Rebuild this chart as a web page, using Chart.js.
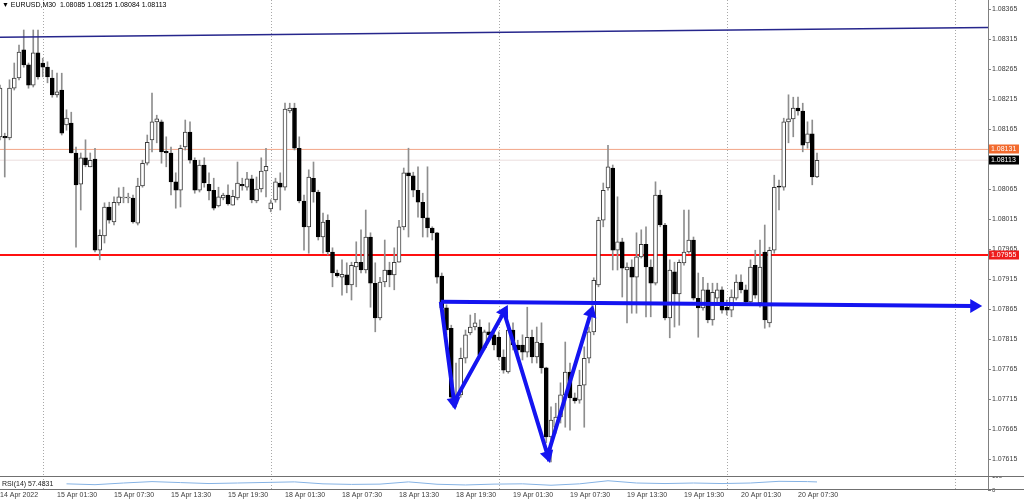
<!DOCTYPE html>
<html>
<head>
<meta charset="utf-8">
<title>EURUSD,M30</title>
<script src="https://cdn.jsdelivr.net/npm/chart.js@4.4.1/dist/chart.umd.min.js"></script>
<style>
  html, body { margin: 0; padding: 0; background: #fff; }
  #wrap { position: relative; width: 1024px; height: 500px; overflow: hidden; }
  #main { position: absolute; left: 0; top: 0; }
  #sub { position: absolute; left: 0; top: 476px; }
  #hdr { position: absolute; left: 2px; top: 0; font: 7px "Liberation Sans", Arial, sans-serif; line-height: 10px; color: #000; white-space: pre; }
</style>
</head>
<body>
<div id="wrap">
  <canvas id="main" width="1024" height="476"></canvas>
  <canvas id="sub" width="1024" height="24"></canvas>
  <div id="hdr"></div>
</div>
<script>
// EURUSD M30, bar 0 = 14 Apr 19:30 ... bar 172 = 20 Apr 09:30
const opens = [
  1.08152, 1.08153, 1.08150, 1.08233, 1.08250, 1.08297, 1.08272, 1.08238, 1.08292, 1.08275, 1.08268, 1.08250,
  1.08222, 1.08230, 1.08172, 1.08175, 1.08125, 1.08073, 1.08117, 1.08102, 1.08115, 1.07963, 1.07987, 1.08035,
  1.08010, 1.08042, 1.08050, 1.08050, 1.08050, 1.08008, 1.08070, 1.08108, 1.08147, 1.08177, 1.08177, 1.08128,
  1.08125, 1.08077, 1.08063, 1.08135, 1.08160, 1.08113, 1.08063, 1.08105, 1.08073, 1.08063, 1.08037, 1.08050,
  1.08055, 1.08038, 1.08050, 1.08073, 1.08068, 1.08082, 1.08045, 1.08065, 1.08095, 1.08032, 1.08047, 1.08075,
  1.08068, 1.08195, 1.08200, 1.08133, 1.08045, 1.08002, 1.08083, 1.08060, 1.07985, 1.08013, 1.07960, 1.07925,
  1.07918, 1.07922, 1.07905, 1.07935, 1.07943, 1.07930, 1.07985, 1.07908, 1.07850, 1.07910, 1.07930, 1.07922,
  1.07943, 1.08002, 1.08092, 1.08087, 1.08063, 1.08043, 1.08017, 1.08000, 1.07992, 1.07920, 1.07867, 1.07833,
  1.07708, 1.07722, 1.07783, 1.07825, 1.07835, 1.07835, 1.07800, 1.07827, 1.07822, 1.07818, 1.07785, 1.07760,
  1.07830, 1.07805, 1.07805, 1.07793, 1.07818, 1.07785, 1.07808, 1.07767, 1.07652, 1.07668, 1.07685, 1.07722,
  1.07760, 1.07717, 1.07713, 1.07738, 1.07783, 1.07827, 1.07905, 1.08013, 1.08067, 1.08100, 1.07963, 1.07977,
  1.07930, 1.07935, 1.07918, 1.07952, 1.07973, 1.07935, 1.07908, 1.08055, 1.08005, 1.07850, 1.07927, 1.07890,
  1.07942, 1.07960, 1.07980, 1.07883, 1.07867, 1.07897, 1.07847, 1.07883, 1.07897, 1.07868, 1.07863, 1.07883,
  1.07910, 1.07897, 1.07877, 1.07938, 1.07875, 1.07960, 1.07842, 1.07963, 1.08070, 1.08068, 1.08177, 1.08182,
  1.08200, 1.08195, 1.08142, 1.08157, 1.08085
];
const highs = [
  1.08238, 1.08158, 1.08247, 1.08275, 1.08305, 1.08330, 1.08275, 1.08330, 1.08330, 1.08283, 1.08277, 1.08263,
  1.08258, 1.08258, 1.08197, 1.08193, 1.08135, 1.08125, 1.08147, 1.08125, 1.08133, 1.07997, 1.08042, 1.08043,
  1.08052, 1.08067, 1.08068, 1.08058, 1.08055, 1.08083, 1.08113, 1.08155, 1.08225, 1.08188, 1.08180, 1.08152,
  1.08135, 1.08092, 1.08138, 1.08180, 1.08177, 1.08117, 1.08113, 1.08117, 1.08092, 1.08083, 1.08068, 1.08058,
  1.08072, 1.08063, 1.08110, 1.08083, 1.08093, 1.08088, 1.08085, 1.08117, 1.08133, 1.08047, 1.08083, 1.08092,
  1.08208, 1.08208, 1.08208, 1.08152, 1.08055, 1.08097, 1.08110, 1.08063, 1.08025, 1.08022, 1.07967, 1.07930,
  1.07947, 1.07942, 1.07943, 1.07977, 1.07997, 1.08030, 1.07992, 1.07942, 1.07918, 1.07980, 1.07943, 1.07967,
  1.08013, 1.08100, 1.08133, 1.08093, 1.08102, 1.08058, 1.08102, 1.08002, 1.07993, 1.07925, 1.07872, 1.07838,
  1.07775, 1.07800, 1.07830, 1.07855, 1.07858, 1.07847, 1.07830, 1.07842, 1.07830, 1.07827, 1.07797, 1.07842,
  1.07842, 1.07813, 1.07822, 1.07868, 1.07830, 1.07835, 1.07842, 1.07768, 1.07702, 1.07708, 1.07742, 1.07810,
  1.07775, 1.07725, 1.07763, 1.07802, 1.07835, 1.07917, 1.08018, 1.08075, 1.08138, 1.08105, 1.08052, 1.07983,
  1.07942, 1.07947, 1.07992, 1.07997, 1.08002, 1.07947, 1.08077, 1.08063, 1.08008, 1.07947, 1.07943, 1.07947,
  1.08030, 1.08030, 1.07985, 1.07925, 1.07918, 1.07908, 1.07908, 1.07908, 1.07902, 1.07880, 1.07897, 1.07922,
  1.07922, 1.07905, 1.07947, 1.07963, 1.07980, 1.08005, 1.07968, 1.08088, 1.08080, 1.08183, 1.08222, 1.08218,
  1.08218, 1.08208, 1.08177, 1.08180, 1.08125
];
const lows = [
  1.08147, 1.08085, 1.08147, 1.08230, 1.08247, 1.08268, 1.08233, 1.08235, 1.08248, 1.08252, 1.08242, 1.08218,
  1.08218, 1.08155, 1.08163, 1.08125, 1.07968, 1.08030, 1.08102, 1.08102, 1.07960, 1.07947, 1.07975, 1.08008,
  1.08005, 1.08038, 1.08042, 1.08042, 1.08008, 1.08005, 1.08068, 1.08105, 1.08127, 1.08142, 1.08108, 1.08102,
  1.08055, 1.08033, 1.08035, 1.08130, 1.08108, 1.08058, 1.08060, 1.08068, 1.08047, 1.08030, 1.08035, 1.08047,
  1.08038, 1.08038, 1.08047, 1.08063, 1.08063, 1.08042, 1.08042, 1.08060, 1.08052, 1.08027, 1.08043, 1.08030,
  1.08063, 1.08192, 1.08130, 1.08042, 1.07963, 1.07958, 1.08043, 1.07980, 1.07958, 1.07955, 1.07902, 1.07918,
  1.07888, 1.07892, 1.07880, 1.07902, 1.07925, 1.07925, 1.07868, 1.07827, 1.07847, 1.07902, 1.07902, 1.07897,
  1.07943, 1.07997, 1.07985, 1.08052, 1.08018, 1.07985, 1.07985, 1.07980, 1.07908, 1.07863, 1.07822, 1.07708,
  1.07702, 1.07718, 1.07775, 1.07822, 1.07830, 1.07785, 1.07797, 1.07818, 1.07797, 1.07780, 1.07758, 1.07758,
  1.07797, 1.07785, 1.07780, 1.07785, 1.07775, 1.07775, 1.07758, 1.07642, 1.07610, 1.07658, 1.07675, 1.07668,
  1.07663, 1.07708, 1.07708, 1.07668, 1.07775, 1.07822, 1.07902, 1.08002, 1.08063, 1.07930, 1.07930, 1.07885,
  1.07842, 1.07858, 1.07858, 1.07950, 1.07852, 1.07852, 1.07905, 1.08002, 1.07847, 1.07817, 1.07835, 1.07838,
  1.07938, 1.07958, 1.07880, 1.07818, 1.07863, 1.07842, 1.07838, 1.07875, 1.07858, 1.07855, 1.07852, 1.07880,
  1.07892, 1.07875, 1.07875, 1.07883, 1.07868, 1.07833, 1.07835, 1.07958, 1.08030, 1.08063, 1.08142, 1.08152,
  1.08188, 1.08127, 1.08133, 1.08072, 1.08084
];
const closes = [
  1.08233, 1.08150, 1.08233, 1.08250, 1.08293, 1.08272, 1.08238, 1.08292, 1.08252, 1.08268, 1.08252, 1.08222,
  1.08227, 1.08158, 1.08183, 1.08125, 1.08072, 1.08117, 1.08105, 1.08113, 1.07963, 1.07988, 1.08035, 1.08013,
  1.08043, 1.08052, 1.08051, 1.08050, 1.08010, 1.08070, 1.08108, 1.08143, 1.08177, 1.08182, 1.08127, 1.08125,
  1.08077, 1.08063, 1.08133, 1.08160, 1.08113, 1.08063, 1.08105, 1.08075, 1.08062, 1.08033, 1.08052, 1.08055,
  1.08040, 1.08053, 1.08075, 1.08070, 1.08082, 1.08047, 1.08065, 1.08095, 1.08103, 1.08042, 1.08077, 1.08068,
  1.08198, 1.08200, 1.08133, 1.08045, 1.08002, 1.08085, 1.08060, 1.07985, 1.08010, 1.07960, 1.07925, 1.07920,
  1.07923, 1.07905, 1.07938, 1.07943, 1.07930, 1.07985, 1.07908, 1.07850, 1.07910, 1.07930, 1.07922, 1.07943,
  1.08002, 1.08092, 1.08087, 1.08063, 1.08043, 1.08017, 1.08000, 1.07992, 1.07918, 1.07867, 1.07830, 1.07718,
  1.07722, 1.07783, 1.07822, 1.07835, 1.07842, 1.07788, 1.07827, 1.07822, 1.07805, 1.07785, 1.07763, 1.07830,
  1.07805, 1.07797, 1.07793, 1.07818, 1.07785, 1.07810, 1.07767, 1.07652, 1.07680, 1.07685, 1.07722, 1.07760,
  1.07717, 1.07712, 1.07738, 1.07783, 1.07827, 1.07913, 1.08013, 1.08063, 1.08102, 1.07963, 1.07977, 1.07933,
  1.07935, 1.07918, 1.07952, 1.07973, 1.07935, 1.07908, 1.08055, 1.08005, 1.07850, 1.07930, 1.07890, 1.07943,
  1.07960, 1.07980, 1.07883, 1.07867, 1.07897, 1.07847, 1.07893, 1.07897, 1.07863, 1.07863, 1.07885, 1.07910,
  1.07897, 1.07877, 1.07935, 1.07888, 1.07935, 1.07847, 1.07963, 1.08068, 1.08068, 1.08177, 1.08182, 1.08200,
  1.08195, 1.08138, 1.08157, 1.08085, 1.08113
];

const timeLabels = ['14 Apr 2022', '15 Apr 01:30', '15 Apr 07:30', '15 Apr 13:30', '15 Apr 19:30',
  '18 Apr 01:30', '18 Apr 07:30', '18 Apr 13:30', '18 Apr 19:30', '19 Apr 01:30', '19 Apr 07:30',
  '19 Apr 13:30', '19 Apr 19:30', '20 Apr 01:30', '20 Apr 07:30'];
const tickBars = [0, 12, 24, 36, 48, 60, 72, 84, 96, 108, 120, 132, 144, 156, 168];
const daySeparators = [9, 57, 105, 153, 201];
const priceTicks = [1.07615, 1.07665, 1.07715, 1.07765, 1.07815, 1.07865, 1.07915, 1.07965,
  1.08015, 1.08065, 1.08115, 1.08165, 1.08215, 1.08265, 1.08315, 1.08365];

const askPrice = 1.08131;
const alertLevel = 1.07955;

// RSI(14)
const rsiBars = [14, 20, 26, 32, 38, 44, 50, 56, 62, 68, 74, 80, 86, 92, 98, 104, 110, 116, 122, 128, 134, 140, 146, 152, 158, 164, 170, 172];
const rsiValues = [44, 38, 50, 60, 53, 46, 50, 54, 58, 44, 40, 42, 58, 41, 36, 42, 44, 34, 44, 66, 50, 46, 50, 46, 50, 62, 60, 57.4831];

// hand drawn objects, as [bar, price]
const trendLine = [[0, 1.08318], [208, 1.08334]];
const neckline = [[92.8, 1.07877], [205.1, 1.07870]];
const zigzag = [[92.8, 1.07877], [95.6, 1.07710], [106.1, 1.07860], [115.3, 1.07621], [124.4, 1.07859]];

const lastBar = closes.length - 1;
const bid = closes[lastBar];

document.getElementById('hdr').textContent =
  '\u25BC EURUSD,M30  ' + [opens[lastBar], highs[lastBar], lows[lastBar], closes[lastBar]].map(v => v.toFixed(5)).join(' ');

const FONT = '"Liberation Sans", Arial, sans-serif';
const toPts = arr => arr.map(p => ({ x: p[0], y: p[1] }));
const levelLine = v => [{ x: 0, y: v }, { x: 208, y: v }];

// dotted day separators, both panels
const separatorPlugin = {
  id: 'daySeparators',
  beforeDatasetsDraw(chart) {
    const { ctx, chartArea, scales } = chart;
    ctx.save();
    ctx.strokeStyle = '#a8a8a8';
    ctx.lineWidth = 1;
    ctx.setLineDash([1, 2]);
    daySeparators.forEach(bar => {
      const px = Math.round(scales.x.getPixelForValue(bar)) + 0.5;
      ctx.beginPath();
      ctx.moveTo(px, chartArea.top);
      ctx.lineTo(px, chartArea.bottom);
      ctx.stroke();
    });
    ctx.restore();
  }
};

// coloured price boxes on the right axis
const tagPlugin = {
  id: 'priceTags',
  afterDraw(chart) {
    const { ctx, chartArea, scales } = chart;
    const tags = [[askPrice, '#f26a2e'], [bid, '#000000'], [alertLevel, '#ee1c1c']];
    ctx.save();
    ctx.font = '7px ' + FONT;
    ctx.textBaseline = 'middle';
    tags.forEach(([v, col]) => {
      const py = Math.round(scales.y.getPixelForValue(v));
      ctx.fillStyle = col;
      ctx.fillRect(chartArea.right + 1, py - 4.5, 30, 9);
      ctx.fillStyle = '#ffffff';
      ctx.fillText(v.toFixed(5), chartArea.right + 3, py);
    });
    ctx.restore();
  }
};

// RSI panel frame and caption
const panelPlugin = {
  id: 'panel',
  afterDraw(chart) {
    const { ctx, chartArea: a, width } = chart;
    ctx.save();
    ctx.strokeStyle = '#707070';
    ctx.lineWidth = 1;
    ctx.beginPath();
    ctx.moveTo(0, a.top + 0.5); ctx.lineTo(width, a.top + 0.5);
    ctx.moveTo(0, a.bottom - 0.5); ctx.lineTo(width, a.bottom - 0.5);
    ctx.stroke();
    ctx.fillStyle = '#202020';
    ctx.font = '7px ' + FONT;
    ctx.textBaseline = 'middle';
    ctx.fillText('RSI(14) ' + rsiValues[rsiValues.length - 1].toFixed(4), a.left + 2, (a.top + a.bottom) / 2 + 1);
    ctx.restore();
  }
};

const bull = opens.map((o, i) => closes[i] >= o);

new Chart(document.getElementById('main'), {
  type: 'bar',
  data: {
    datasets: [
      {
        type: 'line', data: toPts(zigzag), order: 0,
        borderColor: '#1414f0', backgroundColor: '#1414f0', borderWidth: 4,
        pointRadius: [0, 8, 8, 8, 8], pointStyle: 'triangle',
        pointRotation: [0, 172, 29, 163, 17], pointBorderWidth: 0,
        tension: 0, fill: false
      },
      {
        type: 'line', data: toPts(neckline), order: 0,
        borderColor: '#1414f0', backgroundColor: '#1414f0', borderWidth: 4,
        pointRadius: [0, 8], pointStyle: 'triangle', pointRotation: [0, 90], pointBorderWidth: 0,
        tension: 0, fill: false
      },
      {
        type: 'line', data: toPts(trendLine), order: 0,
        borderColor: '#26268c', borderWidth: 1.5, pointRadius: 0, fill: false
      },
      {
        label: 'body', order: 1, grouped: false,
        data: opens.map((o, i) => ({ x: i, y: [o, closes[i]] })),
        backgroundColor: bull.map(b => b ? '#ffffff' : '#000000'),
        borderColor: bull.map(b => b ? '#3c3c3c' : '#000000'),
        borderWidth: 1, borderSkipped: false, barThickness: 4, minBarLength: 1
      },
      {
        label: 'wick', order: 2, grouped: false,
        data: lows.map((l, i) => ({ x: i, y: [l, highs[i]] })),
        backgroundColor: '#8e8e8e', borderWidth: 0, barThickness: 1
      },
      {
        type: 'line', data: levelLine(alertLevel), order: 3,
        borderColor: '#ff1010', borderWidth: 2, pointRadius: 0, fill: false
      },
      {
        type: 'line', data: levelLine(askPrice), order: 3,
        borderColor: '#f2a588', borderWidth: 1, pointRadius: 0, fill: false
      },
      {
        type: 'line', data: levelLine(bid), order: 3,
        borderColor: '#ebdede', borderWidth: 1, pointRadius: 0, fill: false
      }
    ]
  },
  options: {
    responsive: false,
    animation: false,
    devicePixelRatio: 1,
    layout: { padding: 0, autoPadding: false },
    plugins: { legend: { display: false }, tooltip: { enabled: false } },
    scales: {
      x: {
        type: 'linear', display: false, min: 0, max: 208, offset: false,
        grid: { offset: false }
      },
      y: {
        position: 'right', min: 1.075867, max: 1.0838, beginAtZero: false,
        afterBuildTicks: s => { s.ticks = priceTicks.map(v => ({ value: v })); },
        afterFit: s => { s.width = 36; s.paddingTop = 0; s.paddingBottom = 0; },
        ticks: {
          callback: v => v.toFixed(5), padding: 1,
          color: '#3a3a3a', font: { family: FONT, size: 7 }
        },
        grid: { drawOnChartArea: false, drawTicks: true, tickLength: 3, color: '#808080' },
        border: { display: true, color: '#808080' }
      }
    }
  },
  plugins: [separatorPlugin, tagPlugin]
});

new Chart(document.getElementById('sub'), {
  type: 'line',
  data: {
    datasets: [{
      data: rsiBars.map((b, k) => ({ x: b, y: rsiValues[k] })),
      borderColor: '#86b3e4', borderWidth: 1, pointRadius: 0, tension: 0, fill: false
    }]
  },
  options: {
    responsive: false,
    animation: false,
    devicePixelRatio: 1,
    layout: { padding: 0, autoPadding: false },
    plugins: { legend: { display: false }, tooltip: { enabled: false } },
    scales: {
      x: {
        type: 'linear', min: 0, max: 208, offset: false,
        afterBuildTicks: s => { s.ticks = tickBars.map(v => ({ value: v })); },
        afterFit: s => { s.height = 10; s.paddingLeft = 0; s.paddingRight = 0; },
        ticks: {
          callback: (v, i) => timeLabels[i], align: 'start', autoSkip: false,
          maxRotation: 0, minRotation: 0, padding: 1,
          color: '#3a3a3a', font: { family: FONT, size: 7 }
        },
        grid: { display: false, drawTicks: false },
        border: { display: false }
      },
      y: {
        position: 'right', min: 0, max: 100,
        afterBuildTicks: s => { s.ticks = [{ value: 0 }, { value: 100 }]; },
        afterFit: s => { s.width = 36; s.paddingTop = 0; s.paddingBottom = 0; },
        ticks: { padding: 1, color: '#3a3a3a', font: { family: FONT, size: 6 } },
        grid: { drawOnChartArea: false, drawTicks: true, tickLength: 3, color: '#808080' },
        border: { display: true, color: '#808080' }
      }
    }
  },
  plugins: [separatorPlugin, panelPlugin]
});
</script>
</body>
</html>
